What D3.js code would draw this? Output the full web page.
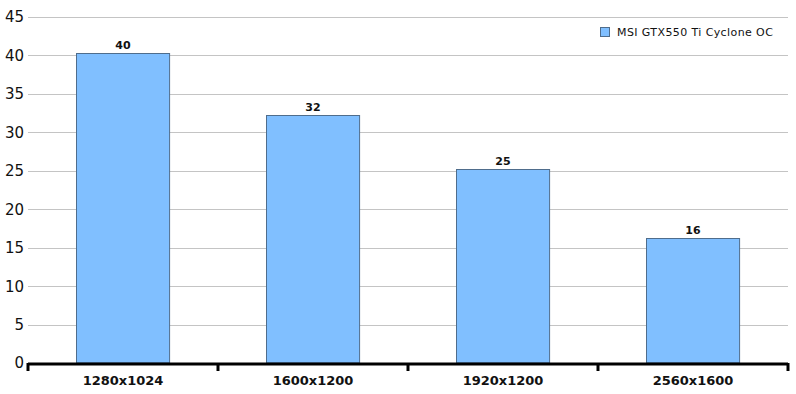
<!DOCTYPE html>
<html>
<head>
<meta charset="utf-8">
<script src="https://cdn.jsdelivr.net/npm/d3@7"></script>
<style>
  body { margin: 0; background: #fff; }
  svg { display: block; font-family: "DejaVu Sans", Verdana, sans-serif; }
</style>
</head>
<body>
<svg id="chart" width="796" height="394"></svg>
<script>
// chart data
const categories = ['1280x1024', '1600x1200', '1920x1200', '2560x1600'];
const values = [40.3, 32.2, 25.2, 16.2];
const yTicks = [0, 5, 10, 15, 20, 25, 30, 35, 40, 45];
const seriesName = 'MSI GTX550 Ti Cyclone OC';

const W = 796, H = 394;
const m = { left: 28, right: 8, top: 17, bottom: 31 };
const svg = d3.select('#chart');

const x = d3.scaleBand().domain(categories).range([m.left, W - m.right]).paddingInner(0).paddingOuter(0);
const y = d3.scaleLinear().domain([0, 45]).range([H - m.bottom, m.top]);

// gridlines
svg.append('g').selectAll('line').data(yTicks.slice(1)).join('line')
  .attr('x1', m.left).attr('x2', W - m.right)
  .attr('y1', d => Math.round(y(d)) + 0.5).attr('y2', d => Math.round(y(d)) + 0.5)
  .attr('stroke', '#c4c4c4').attr('stroke-width', 1);

// y labels
svg.append('g').selectAll('text').data(yTicks).join('text')
  .attr('x', m.left - 4).attr('y', d => y(d))
  .attr('dy', '0.36em').attr('text-anchor', 'end')
  .attr('font-size', 15).attr('fill', '#111')
  .text(d => d);

// bars
const bw = x.bandwidth() * 0.49;
svg.append('g').selectAll('rect').data(values).join('rect')
  .attr('x', (d, i) => Math.round(x(categories[i]) + (x.bandwidth() - bw) / 2) + 0.5)
  .attr('y', d => Math.round(y(d)) + 0.5)
  .attr('width', bw)
  .attr('height', d => y(0) - Math.round(y(d)) - 0.5)
  .attr('fill', '#80bfff').attr('stroke', '#4f6d8c').attr('stroke-width', 1);

// value labels
svg.append('g').selectAll('text').data(values).join('text')
  .attr('x', (d, i) => x(categories[i]) + x.bandwidth() / 2)
  .attr('y', d => y(d) - 4)
  .attr('text-anchor', 'middle').attr('font-size', 11).attr('font-weight', 'bold')
  .attr('fill', '#111')
  .text(d => Math.round(d));

// x axis
const xAxis = svg.append('g').attr('transform', `translate(0,${y(0)})`);
xAxis.append('line').attr('x1', m.left).attr('x2', W - m.right)
  .attr('y1', 1).attr('y2', 1).attr('stroke', '#000').attr('stroke-width', 3);
const tickXs = categories.map(c => x(c)).concat([x(categories[categories.length - 1]) + x.bandwidth()]);
xAxis.selectAll('line.tick').data(tickXs).join('line').attr('class', 'tick')
  .attr('x1', d => d).attr('x2', d => d).attr('y1', 0).attr('y2', 8)
  .attr('stroke', '#000').attr('stroke-width', 3);
xAxis.selectAll('text').data(categories).join('text')
  .attr('x', d => x(d) + x.bandwidth() / 2).attr('y', 22)
  .attr('text-anchor', 'middle').attr('font-size', 13).attr('font-weight', 'bold')
  .attr('fill', '#111')
  .text(d => d);

// legend
const lg = svg.append('g').attr('transform', 'translate(600,27)');
lg.append('rect').attr('x', 0.5).attr('y', 0.5).attr('width', 9).attr('height', 9)
  .attr('fill', '#80bfff').attr('stroke', '#4f6d8c');
lg.append('text').attr('x', 17).attr('y', 5).attr('dy', '0.36em')
  .attr('font-size', 11).attr('letter-spacing', 0.4).attr('fill', '#111').text(seriesName);
</script>
</body>
</html>
